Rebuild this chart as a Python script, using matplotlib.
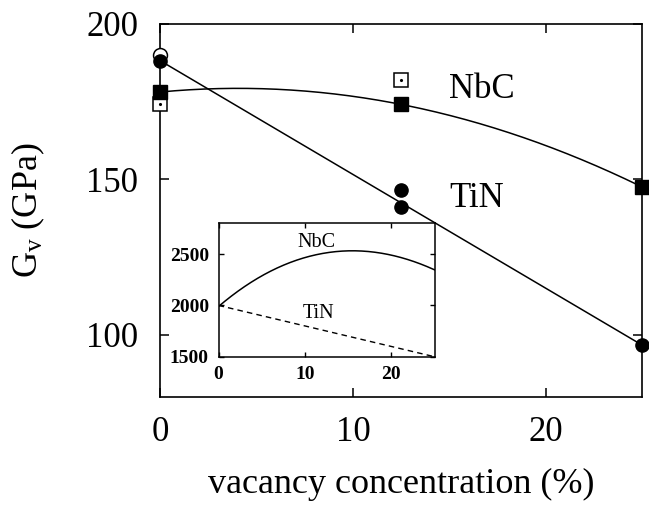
import numpy as np
import matplotlib
matplotlib.use("Agg")
import matplotlib.pyplot as plt

plt.rcParams['font.family'] = ['Liberation Serif', 'DejaVu Serif']
plt.rcParams['mathtext.fontset'] = 'custom'
plt.rcParams['mathtext.rm'] = 'Liberation Serif'
plt.rcParams['mathtext.it'] = 'Liberation Serif:italic'

# ---- main panel data ----
nbc_x = [0, 12.5, 25]
nbc_y = [178, 174, 147.5]
nbc_exp_x = [0, 12.5]
nbc_exp_y = [174, 182]

tin_x = [0, 12.5, 12.5, 25]
tin_y = [188, 146.5, 141.2, 96.7]
tin_line_x = [0, 25]
tin_line_y = [188, 96.7]
tin_exp_x = [0]
tin_exp_y = [190]

x_ticks = [0, 10, 20]
y_ticks = [100, 150, 200]

# ---- inset data ----
ins_x = [0, 1.9, 3.5, 5.4, 7.3, 9.3, 11.2, 13.1, 15.4, 17.0, 18.9, 20.8, 22.8, 25]
ins_nbc = [2000, 2106, 2202, 2308, 2388, 2449, 2494, 2522, 2535, 2529, 2506, 2468, 2417, 2353]
ins_tin_x = [0, 25]
ins_tin = [2000, 1500]
ins_xticks = [0, 10, 20]
ins_yticks = [1500, 2000, 2500]

fig = plt.figure(figsize=(6.49, 5.08), dpi=100)
ax = fig.add_axes([0.2473, 0.2185, 0.7419, 0.7352])

# NbC quadratic fit curve through the computed points
coef = np.polyfit(nbc_x, nbc_y, 2)
xx = np.linspace(0, 25, 200)
ax.plot(xx, np.polyval(coef, xx), color='black', lw=1.1, zorder=2)
ax.plot(tin_line_x, tin_line_y, color='black', lw=1.1, zorder=2)

# experimental (open) markers
ax.plot(tin_exp_x, tin_exp_y, 'o', ms=10, mfc='white', mec='black', mew=1.1,
        clip_on=False, zorder=5, ls='none')
ax.plot(nbc_exp_x, nbc_exp_y, 's', ms=10, mfc='white', mec='black', mew=1.1,
        clip_on=False, zorder=5, ls='none')
ax.plot(nbc_exp_x, nbc_exp_y, '.', ms=2.5, color='black',
        clip_on=False, zorder=6, ls='none')

# calculated (filled) markers
ax.plot(tin_x, tin_y, 'o', ms=9.5, color='black', clip_on=False, zorder=6, ls='none')
ax.plot(nbc_x, nbc_y, 's', ms=10, color='black', clip_on=False, zorder=6, ls='none')

ax.text(15.0, 176.1, 'NbC', fontsize=25, va='baseline', ha='left')
ax.text(15.0, 141.2, 'TiN', fontsize=25, va='baseline', ha='left')

ax.set_xlim(0, 25)
ax.set_ylim(80, 200)
ax.set_xticks(x_ticks)
ax.set_yticks(y_ticks)
ax.tick_params(direction='in', top=True, right=True, length=6.5, width=1.1,
               labelsize=25)
ax.tick_params(axis='y', pad=16)
ax.tick_params(axis='x', pad=14)
for s in ax.spines.values():
    s.set_linewidth(1.2)

ax.set_xlabel('vacancy concentration (%)', fontsize=26)
ax.set_ylabel(r'G$_{\rm v}$ (GPa)', fontsize=26)
ax.xaxis.set_label_coords(0.5, -0.19)
ax.yaxis.set_label_coords(-0.236, 0.5)

# ---- inset ----
ins = fig.add_axes([0.3367, 0.2978, 0.3328, 0.2626])
icoef = np.polyfit(ins_x, ins_nbc, 3)
ixx = np.linspace(0, 25, 200)
ins.plot(ixx, np.polyval(icoef, ixx), color='black', lw=1.1)
ins.plot(ins_tin_x, ins_tin, color='black', lw=1.0, ls=(0, (4, 3)))
ins.set_xlim(0, 25)
ins.set_ylim(1500, 2800)
ins.set_xticks(ins_xticks)
ins.set_yticks(ins_yticks)
ins.tick_params(direction='in', top=True, right=True, length=3.6, width=1.0,
                labelsize=14, pad=7)
for lab in ins.get_xticklabels() + ins.get_yticklabels():
    lab.set_fontweight('bold')
for s in ins.spines.values():
    s.set_linewidth(1.1)
ins.text(11.3, 2570, 'NbC', fontsize=14.5, ha='center', va='baseline')
ins.text(11.6, 1882, 'TiN', fontsize=14.5, ha='center', va='baseline')

fig.savefig('out.png', dpi=100)
